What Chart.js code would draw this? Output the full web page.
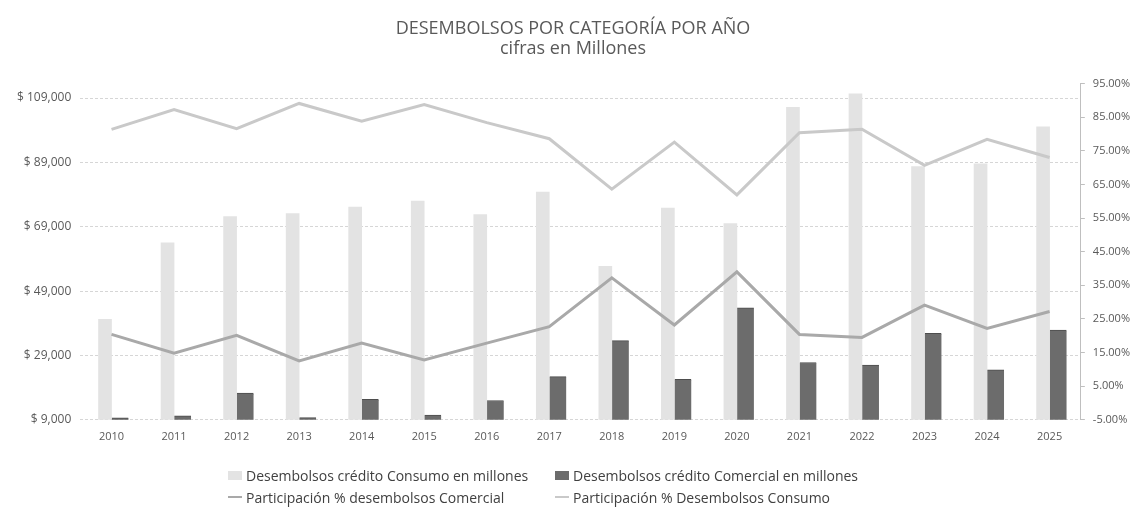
<!DOCTYPE html>
<html lang="es">
<head>
<meta charset="utf-8">
<title>Desembolsos por categoría por año</title>
<script src="https://cdn.jsdelivr.net/npm/chart.js@4.4.1/dist/chart.umd.min.js"></script>
<style>
    html, body { margin: 0; padding: 0; background: #fff; }
    #wrap { position: relative; width: 1138px; height: 511px; }
    #legend {
        position: absolute; left: 228px; top: 466px;
        display: grid; grid-template-columns: 327px auto; row-gap: 4px;
        font-family: "Open Sans", sans-serif; font-size: 14px; color: #404040;
    }
    .item { display: flex; align-items: center; height: 18px; white-space: nowrap; }
    .sw { display: inline-block; width: 14px; margin-right: 4px; }
</style>
</head>
<body>
<div id="wrap">
    <canvas id="chart"></canvas>
    <div id="legend"></div>
</div>
<script>
"use strict";

// Datos
const years = ['2010', '2011', '2012', '2013', '2014', '2015', '2016', '2017',
    '2018', '2019', '2020', '2021', '2022', '2023', '2024', '2025'];
const consumo = [40200, 64000, 72200, 73100, 75100, 77000, 72800, 79800,
    56700, 74800, 70000, 106100, 110300, 87700, 88600, 100100];
const comercial = [9600, 10200, 17300, 9700, 15400, 10500, 15000, 22400,
    33600, 21600, 43800, 26800, 26000, 35900, 24500, 36900];
const pctComercial = [20.4, 14.8, 20.1, 12.5, 17.8, 12.8, 17.8, 22.7,
    37.2, 23.2, 39.0, 20.4, 19.5, 29.1, 22.2, 27.2];
const pctConsumo = [81.4, 87.3, 81.6, 89.1, 83.8, 88.8, 83.4, 78.6,
    63.6, 77.6, 61.9, 80.4, 81.4, 70.7, 78.4, 73.0];

// Ejes
const leftTicks = [9000, 29000, 49000, 69000, 89000, 109000];
const rightTicks = [-5, 5, 15, 25, 35, 45, 55, 65, 75, 85, 95];

const labels = [
    'Desembolsos crédito Consumo en millones',
    'Desembolsos crédito Comercial en millones',
    'Participación % desembolsos Comercial',
    'Participación % Desembolsos Consumo'
];
const colors = ['#e3e3e3', '#6c6c6c', '#a9a9a9', '#c9c9c9'];

Chart.defaults.font.family = '"Open Sans", sans-serif';
Chart.defaults.color = '#595959';

const ctx = document.getElementById('chart');

new Chart(ctx, {
    type: 'bar',
    data: {
        labels: years,
        datasets: [{
            label: labels[0],
            data: consumo,
            backgroundColor: colors[0],
            barThickness: 13,
            yAxisID: 'y',
            order: 1
        }, {
            label: labels[1],
            data: comercial,
            backgroundColor: colors[1],
            borderColor: '#4d4d4d',
            borderWidth: { top: 1 },
            barThickness: 17,
            yAxisID: 'y',
            order: 1
        }, {
            type: 'line',
            label: labels[2],
            data: pctComercial,
            borderColor: colors[2],
            borderWidth: 3,
            pointRadius: 0,
            tension: 0,
            yAxisID: 'y1',
            order: 0
        }, {
            type: 'line',
            label: labels[3],
            data: pctConsumo,
            borderColor: colors[3],
            borderWidth: 3,
            pointRadius: 0,
            tension: 0,
            yAxisID: 'y1',
            order: 0
        }]
    },
    options: {
        responsive: true,
        maintainAspectRatio: false,
        animation: false,
        layout: {
            padding: { left: 8, right: 0, bottom: 66 }
        },
        plugins: {
            legend: { display: false },
            tooltip: { enabled: false },
            title: {
                display: true,
                text: ['DESEMBOLSOS POR CATEGORÍA POR AÑO', 'cifras en Millones'],
                color: '#595959',
                font: { size: 18, weight: 'normal', lineHeight: 1.1 },
                padding: { top: 19, bottom: 25 }
            }
        },
        scales: {
            x: {
                grid: { display: false },
                border: { display: false },
                ticks: { padding: 2, font: { size: 11 } }
            },
            y: {
                position: 'left',
                min: 9000,
                max: 113500,
                afterBuildTicks: (scale) => {
                    scale.ticks = leftTicks.map(v => ({ value: v }));
                },
                grid: { color: '#d6d6d6', drawTicks: false },
                border: { display: false, dash: [3, 2] },
                ticks: {
                    padding: 9,
                    font: { size: 12 },
                    callback: (v) => '$ ' + v.toLocaleString('en-US')
                }
            },
            y1: {
                position: 'right',
                min: -5,
                max: 95,
                afterBuildTicks: (scale) => {
                    scale.ticks = rightTicks.map(v => ({ value: v }));
                },
                grid: { drawOnChartArea: false, tickLength: 4, color: '#bfbfbf' },
                border: { display: true, color: '#bfbfbf' },
                ticks: {
                    padding: 8,
                    font: { size: 11 },
                    callback: (v) => v.toFixed(2) + '%'
                }
            }
        }
    }
});

// Leyenda en HTML (dos columnas como en el original)
const legend = document.getElementById('legend');
const order = [0, 1, 2, 3];
order.forEach((i) => {
    const item = document.createElement('div');
    item.className = 'item';
    const sw = document.createElement('span');
    sw.className = 'sw';
    sw.style.background = colors[i];
    sw.style.height = i < 2 ? '9px' : '2px';
    item.appendChild(sw);
    item.appendChild(document.createTextNode(labels[i]));
    legend.appendChild(item);
});
</script>
</body>
</html>
